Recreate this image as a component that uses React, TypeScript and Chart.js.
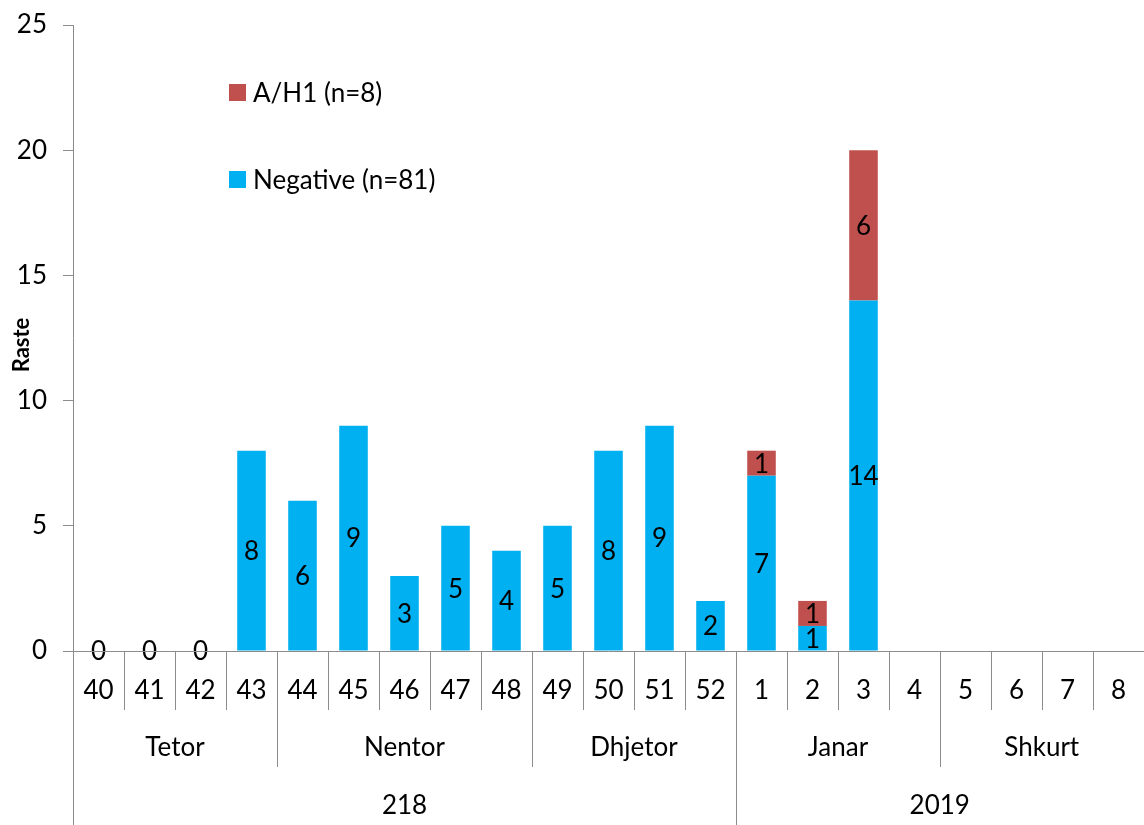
import React, { useEffect, useRef } from "react";
import { Chart, registerables } from "chart.js";

Chart.register(...registerables);

const weeks = ["40","41","42","43","44","45","46","47","48","49","50","51","52","1","2","3","4","5","6","7","8"];
const months = ["Tetor", "Nentor", "Dhjetor", "Janar", "Shkurt"];
const monthSpans = [4, 5, 4, 4, 4];
const years = ["218", "2019"];
const yearSpans = [13, 8];
const negative: (number | null)[] = [0,0,0,8,6,9,3,5,4,5,8,9,2,7,1,14,null,null,null,null,null];
const ah1: (number | null)[] = [null,null,null,null,null,null,null,null,null,null,null,null,null,1,1,6,null,null,null,null,null];
const seriesNames = ["Negative (n=81)", "A/H1 (n=8)"];
const yTicks = [0, 5, 10, 15, 20, 25];

const FONT = "Lato, 'Noto Sans', sans-serif";
const BLUE = "#00B0F0";
const RED = "#C0504D";
const LINE = "#8c8c8c";
const FS = 26;

const overlay = {
  id: "overlay",
  afterDatasetsDraw(chart: any) {
    const ctx = chart.ctx;
    ctx.save();
    ctx.font = `${FS}px ${FONT}`;
    ctx.fillStyle = "#000";
    ctx.textAlign = "center";
    ctx.textBaseline = "middle";
    chart.data.datasets.forEach((ds: any, di: number) => {
      const meta = chart.getDatasetMeta(di);
      meta.data.forEach((bar: any, i: number) => {
        const v = ds.data[i];
        if (v === null || v === undefined) return;
        const p = bar.getProps(["x", "y", "base"], true);
        ctx.fillText(String(v), p.x, (p.y + p.base) / 2 + 1);
      });
    });
    ctx.restore();
  },
  afterDraw(chart: any) {
    const ctx = chart.ctx;
    const xs = chart.scales.x;
    const area = chart.chartArea;
    const bottom = area.bottom;
    const H = chart.height;
    const n = weeks.length;
    const bound = (k: number) => {
      if (k <= 0) return area.left;
      if (k >= n) return area.right - 0.5;
      return (xs.getPixelForValue(k - 1) + xs.getPixelForValue(k)) / 2;
    };
    ctx.save();
    ctx.strokeStyle = LINE;
    ctx.lineWidth = 1;
    const vline = (x: number, y1: number, y2: number) => {
      const px = Math.round(x) + 0.5;
      ctx.beginPath();
      ctx.moveTo(px, y1);
      ctx.lineTo(px, y2);
      ctx.stroke();
    };
    ctx.beginPath();
    ctx.moveTo(area.left, Math.round(bottom) + 0.5);
    ctx.lineTo(area.right, Math.round(bottom) + 0.5);
    ctx.stroke();
    for (let k = 1; k <= n; k++) vline(bound(k), bottom, bottom + 59);
    let acc = 0;
    monthSpans.forEach((s) => { acc += s; vline(bound(acc), bottom, bottom + 116); });
    vline(area.left, bottom, H);
    acc = 0;
    yearSpans.forEach((s) => { acc += s; vline(bound(acc), bottom, H); });

    ctx.fillStyle = "#000";
    ctx.font = `${FS}px ${FONT}`;
    ctx.textAlign = "center";
    ctx.textBaseline = "middle";
    weeks.forEach((w, i) => ctx.fillText(w, xs.getPixelForValue(i), bottom + 40));
    acc = 0;
    months.forEach((m, i) => {
      const c = (bound(acc) + bound(acc + monthSpans[i])) / 2;
      ctx.fillText(m, c, bottom + 97);
      acc += monthSpans[i];
    });
    acc = 0;
    years.forEach((yv, i) => {
      const c = (bound(acc) + bound(acc + yearSpans[i])) / 2;
      ctx.fillText(yv, c, bottom + 155);
      acc += yearSpans[i];
    });

    ctx.save();
    ctx.translate(22, (area.top + area.bottom) / 2 + 7);
    ctx.rotate(-Math.PI / 2);
    ctx.font = `bold 22px ${FONT}`;
    ctx.fillText("Raste", 0, 0);
    ctx.restore();

    const legend = [
      { name: seriesNames[1], color: RED, y: 93 },
      { name: seriesNames[0], color: BLUE, y: 180 },
    ];
    ctx.textAlign = "left";
    ctx.font = `${FS}px ${FONT}`;
    legend.forEach((l) => {
      ctx.fillStyle = l.color;
      ctx.fillRect(229, l.y - 9, 17, 17);
      ctx.fillStyle = "#000";
      ctx.fillText(l.name, 253, l.y + 1);
    });
    ctx.restore();
  },
};

export default function App() {
  const ref = useRef<HTMLCanvasElement>(null);
  useEffect(() => {
    document.body.style.margin = "0";
    const chart = new Chart(ref.current!, {
      type: "bar",
      data: {
        labels: weeks,
        datasets: [
          { label: seriesNames[0], data: negative, backgroundColor: BLUE, barPercentage: 0.56, categoryPercentage: 1 },
          { label: seriesNames[1], data: ah1, backgroundColor: RED, barPercentage: 0.56, categoryPercentage: 1 },
        ],
      },
      options: {
        animation: false,
        responsive: false,
        layout: { padding: { top: 25, bottom: 174, left: 0, right: 0 } },
        plugins: { legend: { display: false }, tooltip: { enabled: false } },
        scales: {
          x: { stacked: true, display: false },
          y: {
            stacked: true,
            min: 0,
            max: 25,
            afterBuildTicks: (s: any) => { s.ticks = yTicks.map((v) => ({ value: v })); },
            afterFit: (s: any) => { s.width = 73; s.paddingTop = 0; s.paddingBottom = 0; },
            ticks: { color: "#000", padding: 16, font: { family: FONT, size: FS } },
            grid: { display: true, drawOnChartArea: false, drawTicks: true, tickLength: 10, color: LINE },
            border: { display: true, color: LINE },
          },
        },
      },
      plugins: [overlay],
    });
    return () => chart.destroy();
  }, []);
  return (
    <div style={{ position: "absolute", left: 0, top: 0, width: 1144, height: 825 }}>
      <canvas ref={ref} width={1144} height={825} />
    </div>
  );
}
